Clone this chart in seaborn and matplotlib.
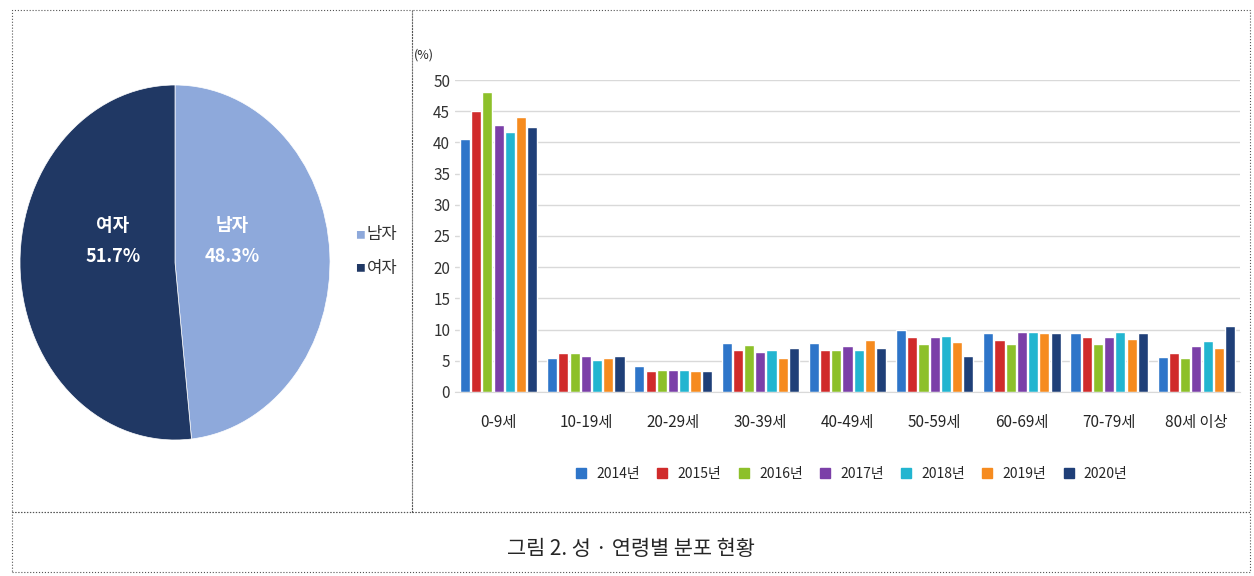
import pandas as pd
import matplotlib.pyplot as plt
import seaborn as sns
from matplotlib.patches import Rectangle
from matplotlib.lines import Line2D

sns.set_style('white')
plt.rcParams['font.family'] = ['Noto Sans CJK KR', 'DejaVu Sans']

genders = ['남자', '여자']
gender_share = [48.3, 51.7]
gender_colors = ['#8EA9DB', '#203864']

ages = ['0-9세', '10-19세', '20-29세', '30-39세', '40-49세', '50-59세', '60-69세', '70-79세', '80세 이상']
years = ['2014년', '2015년', '2016년', '2017년', '2018년', '2019년', '2020년']
year_colors = ['#2E75C9', '#D02B2B', '#8DC02A', '#7B3FA8', '#22B5D0', '#F68B1F', '#1F3F78']
v2014 = [40.5, 5.5, 4.1, 7.8, 7.8, 10.0, 9.4, 9.4, 5.6]
v2015 = [45.0, 6.2, 3.3, 6.7, 6.7, 8.8, 8.3, 8.8, 6.2]
v2016 = [48.0, 6.2, 3.5, 7.6, 6.7, 7.7, 7.7, 7.7, 5.5]
v2017 = [42.8, 5.8, 3.5, 6.4, 7.3, 8.8, 9.6, 8.8, 7.3]
v2018 = [41.7, 5.2, 3.5, 6.7, 6.7, 9.0, 9.6, 9.6, 8.2]
v2019 = [44.0, 5.5, 3.3, 5.5, 8.4, 8.0, 9.4, 8.5, 7.0]
v2020 = [42.5, 5.8, 3.3, 7.0, 7.0, 5.8, 9.4, 9.4, 10.5]

series = [v2014, v2015, v2016, v2017, v2018, v2019, v2020]
df = pd.DataFrame([(a, y, s[i]) for y, s in zip(years, series) for i, a in enumerate(ages)],
                  columns=['age', 'year', 'value'])

fig = plt.figure(figsize=(12.54, 5.76), dpi=100)
W, H = 1254, 576

# frame boxes (dotted)
def box(x0, y0, x1, y1):
    fig.add_artist(Rectangle((x0 / W, 1 - y1 / H), (x1 - x0) / W, (y1 - y0) / H,
                             transform=fig.transFigure, fill=False, ls=':', lw=0.8, ec='#555555'))
box(12, 10, 412, 512)
box(412, 10, 1250, 512)
box(12, 512, 1250, 572)
fig.text(631 / W, 1 - 549 / H, '그림 2. 성 · 연령별 분포 현황', ha='center', va='center', fontsize=15)

# pie
axp = fig.add_axes([20 / W, 1 - 440 / H, 310 / W, 355 / H])
axp.pie(gender_share, colors=gender_colors, startangle=90, counterclock=False,
        wedgeprops=dict(edgecolor='white', linewidth=0.5))
axp.set_aspect('auto')
axp.set_xlim(-1, 1)
axp.set_ylim(-1, 1)
axp.text(0.37, 0.12, f'{genders[0]}\n{gender_share[0]}%', ha='center', va='center',
         color='white', fontsize=13, fontweight='bold', linespacing=1.8)
axp.text(-0.4, 0.12, f'{genders[1]}\n{gender_share[1]}%', ha='center', va='center',
         color='white', fontsize=13, fontweight='bold', linespacing=1.8)
for i, g in enumerate(genders):
    fig.text(355 / W, 1 - (235 + 33 * i) / H, '■', color=gender_colors[i], fontsize=7, va='center')
    fig.text(367 / W, 1 - (235 + 33 * i) / H, g, fontsize=12, va='center', color='#333333')

# bars
ax = fig.add_axes([455 / W, 1 - 392 / H, 785 / W, 312 / H])
sns.barplot(data=df, x='age', y='value', hue='year', palette=year_colors, ax=ax,
            width=0.9, gap=0.1, saturation=1, legend=False)
ax.set_ylim(0, 50)
ax.set_yticks(range(0, 51, 5))
ax.yaxis.grid(True, color='#d9d9d9', lw=1)
ax.set_axisbelow(True)
ax.set_xlabel('')
ax.set_ylabel('')
for s in ['top', 'right', 'left']:
    ax.spines[s].set_visible(False)
ax.spines['bottom'].set_color('#d9d9d9')
ax.tick_params(axis='x', length=0, pad=16, labelsize=11)
ax.tick_params(axis='y', length=0, labelsize=11, colors='#333333')
ax.text(-0.04, 1.07, '(%)', transform=ax.transAxes, fontsize=9, ha='center')
handles = [Line2D([], [], marker='s', ls='', color=c, markersize=7) for c in year_colors]
ax.legend(handles, years, loc='upper center', bbox_to_anchor=(0.5, -0.2), ncol=7,
          frameon=False, fontsize=10, handletextpad=0.1, columnspacing=0.6)

fig.savefig('out.png', dpi=100)
